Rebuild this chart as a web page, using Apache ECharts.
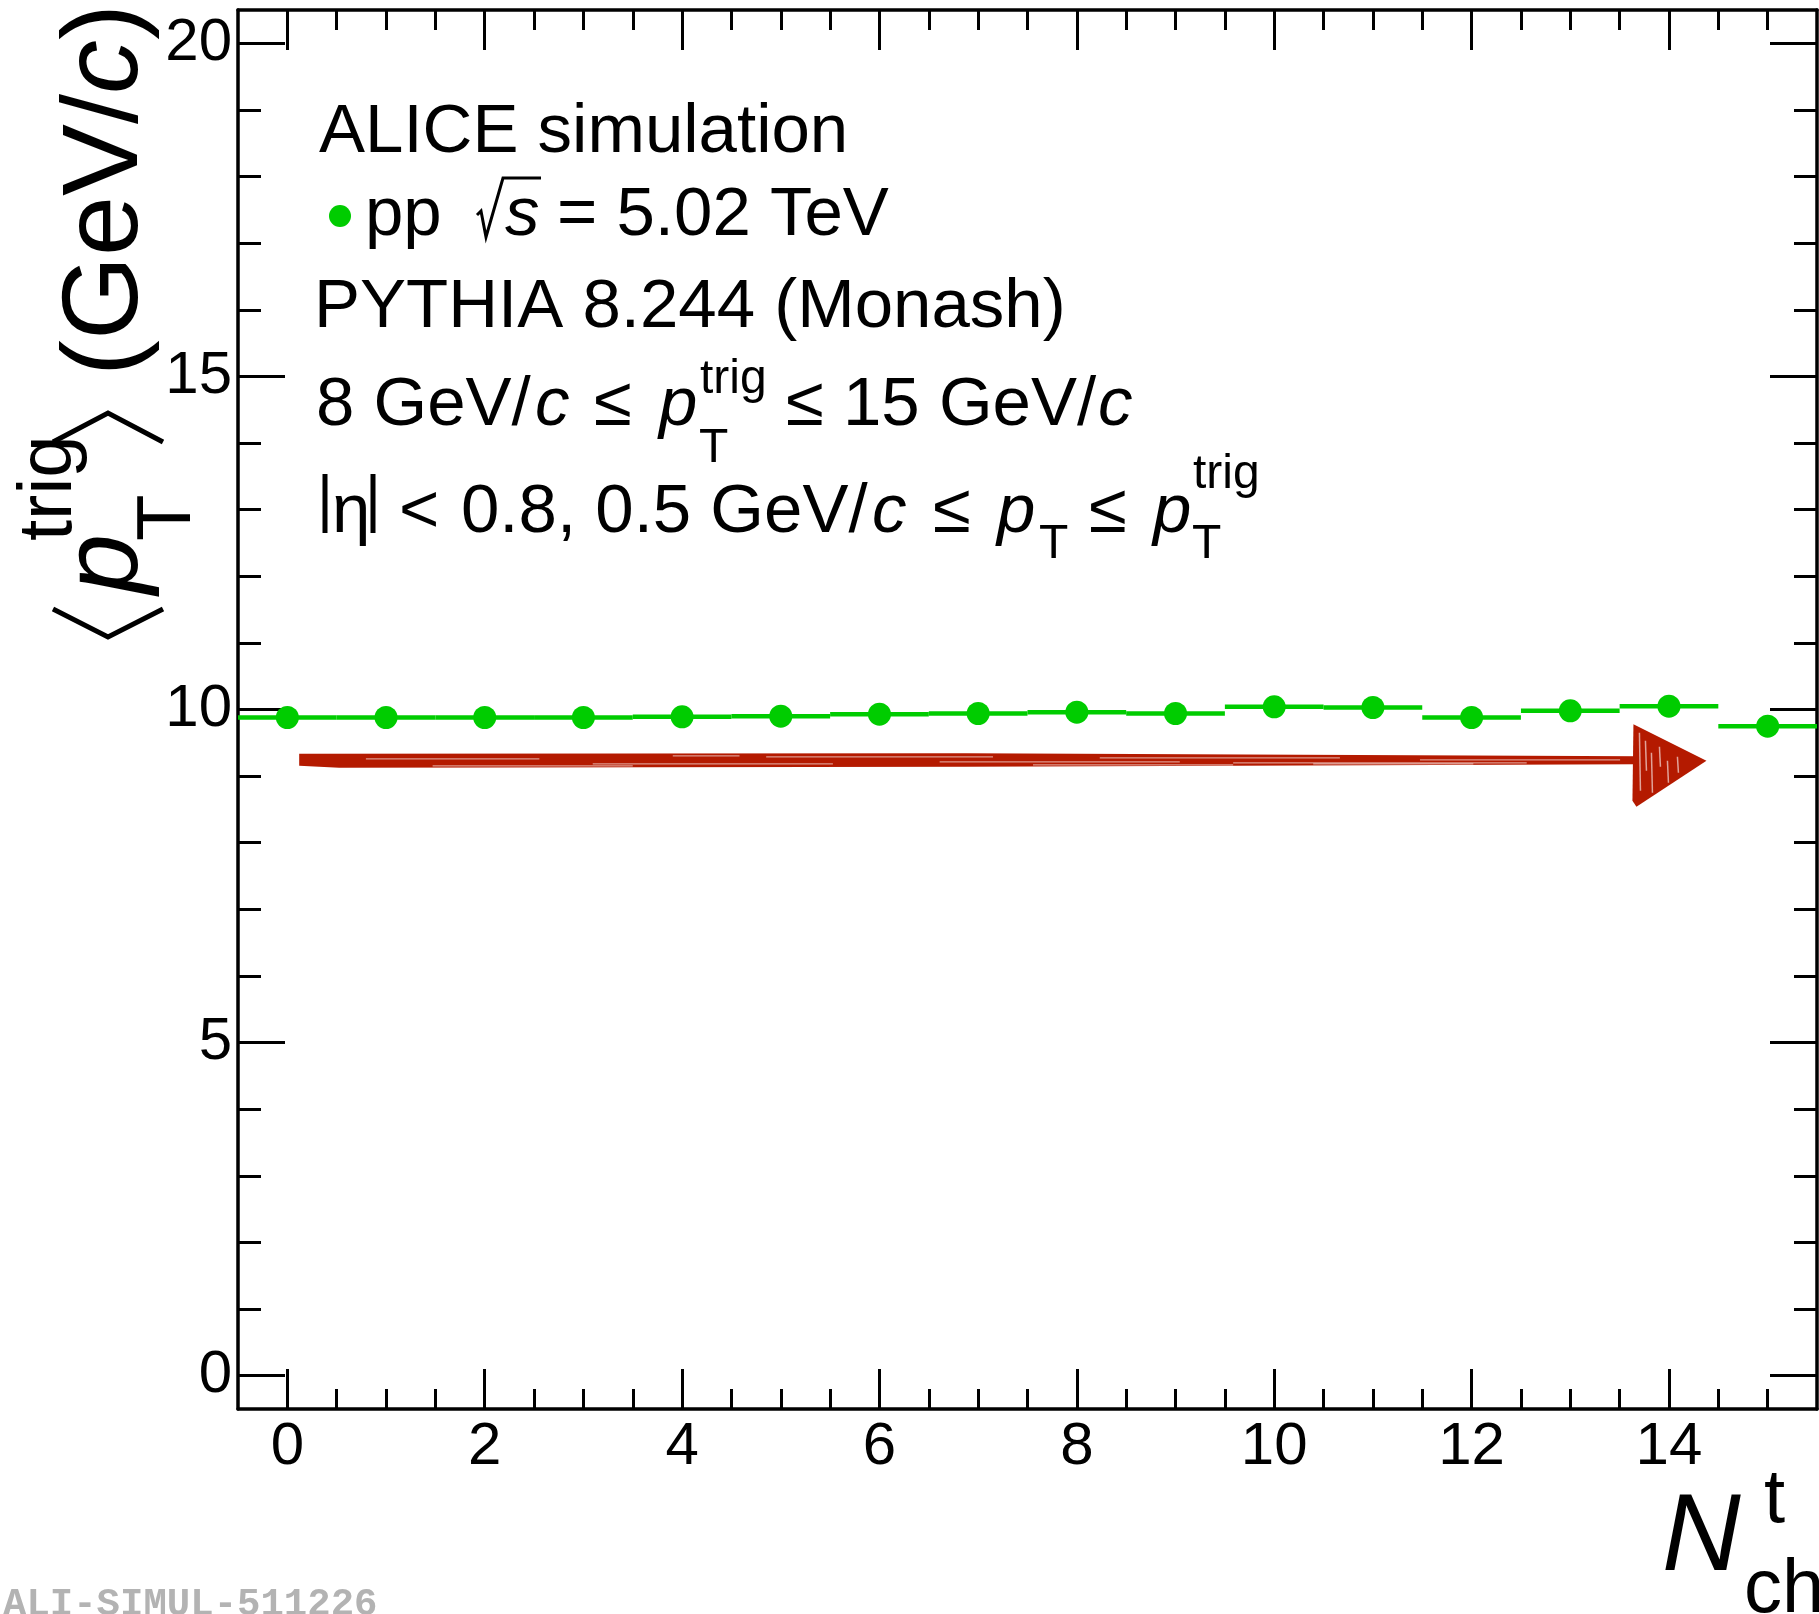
<!DOCTYPE html>
<html>
<head>
<meta charset="utf-8">
<script src="https://cdn.jsdelivr.net/npm/echarts@6/dist/echarts.min.js"></script>
<style>
  html, body { margin: 0; padding: 0; background: #ffffff; }
  #chart { width: 1819px; height: 1614px; }
</style>
</head>
<body>
<div id="chart"></div>
<script>
// Mean trigger-particle pT versus transverse-region multiplicity, PYTHIA 8 (Monash), pp at 5.02 TeV
const nchBins = [0, 1, 2, 3, 4, 5, 6, 7, 8, 9, 10, 11, 12, 13, 14, 15];
const meanPtTrig = [9.88, 9.88, 9.88, 9.88, 9.89, 9.90, 9.93, 9.94, 9.96, 9.94, 10.04, 10.03, 9.88, 9.98, 10.05, 9.75];
const binHalfWidth = 0.5;

// axis ticks
const xMajorTicks = [0, 2, 4, 6, 8, 10, 12, 14];
const xMinorTicks = [0.5, 1, 1.5, 2.5, 3, 3.5, 4.5, 5, 5.5, 6.5, 7, 7.5, 8.5, 9, 9.5, 10.5, 11, 11.5, 12.5, 13, 13.5, 14.5, 15];
const yMajorTicks = [0, 5, 10, 15, 20];
const yMinorTicks = [1, 2, 3, 4, 6, 7, 8, 9, 11, 12, 13, 14, 16, 17, 18, 19];

// trend arrow, in data coordinates
const arrowTail = [0.12, 9.23];
const arrowHeadBase = 13.64;
const arrowTip = [14.38, 9.23];
const arrowHeadTop = 9.78;
const arrowHeadBottom = 8.54;

const GREEN = '#00cc00';
const ARROW_RED = '#b41a00';
const FONT = '"Liberation Sans", Arial, Helvetica, sans-serif';

const chart = echarts.init(document.getElementById('chart'), null, { renderer: 'canvas' });

// text placement by ink-left edge and alphabetic baseline
const mctx = document.createElement('canvas').getContext('2d');
function txt(inkLeft, baseline, str, size, opts) {
  opts = opts || {};
  const family = opts.family || FONT;
  const font = (opts.italic ? 'italic ' : '') + (opts.bold ? 'bold ' : '') + size + 'px ' + family;
  mctx.font = font;
  mctx.textBaseline = 'middle';
  mctx.textAlign = 'left';
  const m = mctx.measureText(str);
  const h = mctx.measureText('H');
  return {
    type: 'text',
    x: inkLeft + m.actualBoundingBoxLeft,
    y: baseline - h.actualBoundingBoxDescent,
    silent: true,
    style: {
      text: str, font: font, fill: opts.fill || '#000',
      align: 'left', verticalAlign: 'middle'
    }
  };
}
function poly(points, width) {
  return { type: 'polyline', silent: true, shape: { points: points },
           style: { stroke: '#000', lineWidth: width, fill: null, lineJoin: 'miter' } };
}

const S = 69;   // annotation text size
const SS = 48;  // sub/superscript size

const annotation = [
  txt(319, 152, 'ALICE simulation', S),
  { type: 'circle', silent: true, shape: { cx: 340, cy: 216, r: 11 }, style: { fill: GREEN } },
  txt(369, 235, 'pp', S),
  poly([[477, 215], [481, 211], [486, 237], [503, 178], [541, 178]], 3),
  txt(505, 235, 's', S, { italic: true }),
  txt(560, 235, '= 5.02 TeV', S),
  txt(319, 327, 'PYTHIA 8.244 (Monash)', S),

  txt(319, 425, '8 GeV/', S),
  txt(537, 425, 'c', S, { italic: true }),
  txt(596, 425, '\u2264', S),
  txt(657, 425, 'p', S, { italic: true }),
  txt(700, 393, 'trig', SS),
  txt(700, 462, 'T', SS),
  txt(788, 425, '\u2264', S),
  txt(848, 425, '15 GeV/', S),
  txt(1100, 425, 'c', S, { italic: true }),

  poly([[325, 474], [325, 533]], 5),
  txt(335, 532, '\u03b7', S),
  poly([[373, 474], [373, 533]], 5),
  txt(402, 532, '<', S),
  txt(463, 532, '0.8, 0.5 GeV/', S),
  txt(874, 532, 'c', S, { italic: true }),
  txt(935, 532, '\u2264', S),
  txt(995, 532, 'p', S, { italic: true }),
  txt(1040, 558, 'T', SS),
  txt(1091, 532, '\u2264', S),
  txt(1151, 532, 'p', S, { italic: true }),
  txt(1193, 488, 'trig', SS),
  txt(1193, 558, 'T', SS)
];

// x-axis title N_ch^t
const xTitle = [
  txt(1665, 1570, 'N', 109, { italic: true }),
  txt(1765, 1522, 't', 76),
  txt(1747, 1612, 'ch', 76)
];

// y-axis title <p_T^trig> (GeV/c), laid out along the rotated baseline
const TS = 108, TSS = 76;
function yTitleChildren() {
  const ch = [];
  ch.push(poly([[31, -85], [3, -30], [31, 25]], 5));
  ch.push(txt(43, 0, 'p', TS, { italic: true }));
  ch.push(txt(100, 52, 'T', TSS));
  ch.push(txt(100, -67, 'trig', TSS));
  ch.push(poly([[198, -85], [227, -30], [198, 25]], 5));
  // "(GeV/" + italic c + ")"
  const f1 = TS + 'px ' + FONT, f2 = 'italic ' + TS + 'px ' + FONT;
  mctx.font = f1;
  const a = mctx.measureText('(GeV/');
  const start = 270;
  const origin = start + a.actualBoundingBoxLeft;
  ch.push(txt(start, 0, '(GeV/', TS));
  mctx.font = f2;
  const c = mctx.measureText('c');
  const cOrigin = origin + a.width;
  ch.push(txt(cOrigin - c.actualBoundingBoxLeft, 0, 'c', TS, { italic: true }));
  mctx.font = f1;
  const p = mctx.measureText(')');
  const pOrigin = cOrigin + c.width;
  ch.push(txt(pOrigin - p.actualBoundingBoxLeft, 0, ')', TS));
  return ch;
}

const watermark = txt(3, 1615, 'ALI-SIMUL-511226', 39,
  { bold: true, family: '"Liberation Mono", "DejaVu Sans Mono", monospace', fill: '#b3b3b3' });

const axisBlack = { color: '#000', width: 3.5 };
const tickBlack = { color: '#000', width: 3 };
const labelStyle = { fontSize: 60, fontFamily: FONT, color: '#000' };

function xAx(position, ticks, len, showLine, labels) {
  return {
    type: 'value', position: position, min: -0.5, max: 15.5,
    axisLine: { show: showLine, onZero: false, lineStyle: axisBlack },
    axisTick: { show: true, inside: true, length: len, lineStyle: tickBlack, customValues: ticks },
    axisLabel: labels ? Object.assign({ show: true, margin: 8, customValues: ticks }, labelStyle) : { show: false },
    splitLine: { show: false }
  };
}
function yAx(position, ticks, len, showLine, labels) {
  return {
    type: 'value', position: position, min: -0.5, max: 20.5,
    axisLine: { show: showLine, onZero: false, lineStyle: axisBlack },
    axisTick: { show: true, inside: true, length: len, lineStyle: tickBlack, customValues: ticks },
    axisLabel: labels ? Object.assign({ show: true, margin: 6, customValues: ticks }, labelStyle) : { show: false },
    splitLine: { show: false }
  };
}

const option = {
  backgroundColor: '#ffffff',
  animation: false,
  grid: { left: 238, right: 2, top: 10, bottom: 205, containLabel: false },
  xAxis: [
    xAx('bottom', xMajorTicks, 40, true, true),
    xAx('bottom', xMinorTicks, 20, false, false),
    xAx('top', xMajorTicks, 40, true, false),
    xAx('top', xMinorTicks, 20, false, false)
  ],
  yAxis: [
    yAx('left', yMajorTicks, 47, true, true),
    yAx('left', yMinorTicks, 23, false, false),
    yAx('right', yMajorTicks, 47, true, false),
    yAx('right', yMinorTicks, 23, false, false)
  ],
  series: [
    {
      name: 'arrow',
      type: 'custom',
      xAxisIndex: 0, yAxisIndex: 0,
      silent: true,
      data: [[arrowTail[0], arrowTail[1]]],
      renderItem: function (params, api) {
        const t = api.coord(arrowTail);
        const b = api.coord([arrowHeadBase, arrowTip[1]]);
        const mid = api.coord([arrowTail[0] + 0.5 * (arrowHeadBase - arrowTail[0]), arrowTip[1]]);
        const tip = api.coord(arrowTip);
        const top = api.coord([arrowHeadBase, arrowHeadTop]);
        const bot = api.coord([arrowHeadBase, arrowHeadBottom]);
        const len = b[0] - t[0];
        const children = [
          { type: 'polygon', shape: { points: [
              [t[0], t[1] - 7], [mid[0], mid[1] - 7.5], [b[0] + 4, b[1] - 4.5],
              [b[0] + 4, b[1] + 3.5], [mid[0], mid[1] + 6], [t[0] + 40, t[1] + 7], [t[0], t[1] + 5]
            ] }, style: { fill: ARROW_RED } },
          { type: 'polygon', shape: { points: [
              [top[0], top[1]], [tip[0], tip[1]], [bot[0] + 3, bot[1]], [bot[0] - 1, bot[1] - 6]
            ] }, style: { fill: ARROW_RED } }
        ];
        // brush-stroke streaks
        const streaks = [
          [0.05, 0.18, -2], [0.22, 0.40, 3], [0.35, 0.52, -4], [0.48, 0.66, 1],
          [0.60, 0.78, -3], [0.70, 0.92, 2], [0.84, 0.99, -1], [0.10, 0.25, 5],
          [0.55, 0.70, 4], [0.28, 0.33, -5], [0.76, 0.88, 3]
        ];
        streaks.forEach(function (s) {
          children.push({ type: 'line', shape: {
              x1: t[0] + s[0] * len, y1: t[1] + s[2], x2: t[0] + s[1] * len, y2: t[1] + s[2] },
            style: { stroke: '#ffffff', lineWidth: 1.2, opacity: 0.55 } });
        });
        [[6, -28, 30], [12, -20, 10], [18, -8, 32], [26, -14, 6], [34, 0, 22], [44, -4, 12]].forEach(function (s) {
          children.push({ type: 'line', shape: {
              x1: b[0] + s[0], y1: b[1] + s[1], x2: b[0] + s[0] + 1, y2: b[1] + s[2] },
            style: { stroke: '#ffffff', lineWidth: 1.5, opacity: 0.6 } });
        });
        return { type: 'group', children: children };
      },
      z: 2
    },
    {
      name: 'pp 5.02 TeV',
      type: 'custom',
      xAxisIndex: 0, yAxisIndex: 0,
      data: nchBins.map(function (n, i) { return [n, meanPtTrig[i]]; }),
      renderItem: function (params, api) {
        const x = api.value(0), y = api.value(1);
        const p0 = api.coord([x - binHalfWidth, y]);
        const p1 = api.coord([x + binHalfWidth, y]);
        const c = api.coord([x, y]);
        return { type: 'group', children: [
          { type: 'line', shape: { x1: p0[0], y1: p0[1], x2: p1[0], y2: p1[1] },
            style: { stroke: GREEN, lineWidth: 4.5 } },
          { type: 'circle', shape: { cx: c[0], cy: c[1], r: 11.5 }, style: { fill: GREEN } }
        ] };
      },
      z: 3
    }
  ],
  graphic: [].concat(annotation, xTitle, [
    { type: 'group', x: 138, y: 640, rotation: Math.PI / 2, children: yTitleChildren() },
    watermark
  ])
};

chart.setOption(option);
</script>
</body>
</html>
